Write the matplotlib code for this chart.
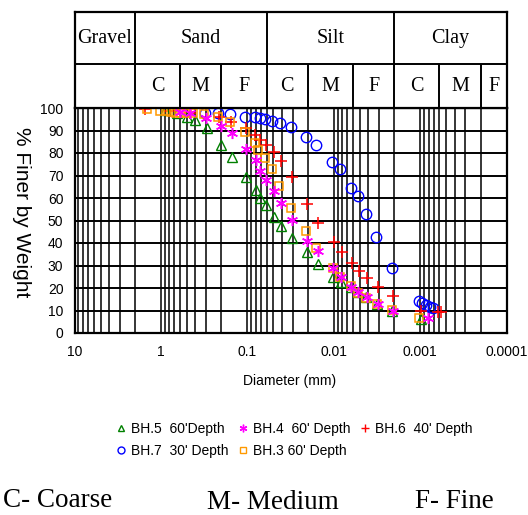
import numpy as np
import matplotlib
matplotlib.use("Agg")
import matplotlib.pyplot as plt
from matplotlib.ticker import FixedLocator, LogLocator, NullFormatter
from matplotlib.lines import Line2D

# ---- data: diameter (mm) and % finer ----
bh5_d = [0.90, 0.655, 0.502, 0.406, 0.297, 0.203, 0.152, 0.1027, 0.080, 0.0716, 0.0604, 0.0497,
         0.0412, 0.0305, 0.0205, 0.0153, 0.0103, 0.0082, 0.0063, 0.0053, 0.00423, 0.00319, 0.00212, 0.00098]
bh5_p = [99, 98, 96, 94.5, 91, 83.5, 78.4, 69.5, 63.6, 59.9, 56.9, 51.4,
         47.7, 42.4, 36.1, 30.7, 25, 22.8, 20.6, 18.1, 15.9, 12.8, 9.8, 6.2]

bh4_d = [0.605, 0.464, 0.303, 0.203, 0.151, 0.1027, 0.080, 0.0716, 0.0604, 0.0497, 0.0405,
         0.0305, 0.0205, 0.0153, 0.0103, 0.0082, 0.0063, 0.0053, 0.00416, 0.0031, 0.00208, 0.00082]
bh4_p = [98.3, 97.8, 95.5, 92.2, 89, 82, 77, 72, 68, 63, 57.6,
         50.2, 41, 36.6, 28.8, 25, 20.6, 18.1, 15.9, 12.8, 9.8, 6.5]

bh6_d = [1.53, 0.79, 0.464, 0.214, 0.156, 0.1046, 0.0813, 0.0716, 0.0604, 0.0497, 0.0405, 0.0305,
         0.0205, 0.0153, 0.0100, 0.0080, 0.00613, 0.00505, 0.00416, 0.0031, 0.00208, 0.00098, 0.00063, 0.00058]
bh6_p = [99.6, 98.8, 98, 96, 94, 91, 88, 86, 83.4, 80.6, 76.4, 69.5,
         57.3, 49, 40.6, 36.1, 31, 27.7, 24.3, 20.6, 16.6, 10, 9.3, 9.3]

bh7_d = [0.311, 0.217, 0.16, 0.1074, 0.0824, 0.0719, 0.0622, 0.0524, 0.0424, 0.0316, 0.0212, 0.016,
         0.0104, 0.00843, 0.0063, 0.0053, 0.00423, 0.00324, 0.00214, 0.00104, 0.00095, 0.00086, 0.00077, 0.00071]
bh7_p = [97.8, 97.9, 97.3, 96, 96, 95.4, 95, 94.4, 93.3, 91.5, 87.2, 83.6,
         76, 72.9, 64.3, 60.9, 52.8, 42.8, 28.7, 14.2, 13.2, 12.3, 11.6, 11]

bh3_d = [1.45, 1.03, 0.877, 0.77, 0.673, 0.589, 0.502, 0.425, 0.315, 0.217, 0.16, 0.1074, 0.0824, 0.0755,
         0.0622, 0.0517, 0.043, 0.0316, 0.0212, 0.016, 0.0103, 0.00843, 0.0063, 0.0053, 0.00423,
         0.00319, 0.00212, 0.00104]
bh3_p = [99.5, 98.7, 98.5, 98.2, 98, 97.9, 97.8, 97.6, 97.2, 96, 94, 89.5, 84.3, 81.3,
         78, 73, 65.5, 55.4, 45.3, 37.6, 28.7, 25, 20.9, 17.6, 15.7,
         12.9, 10.2, 6.8]

x_ticks = [10, 1, 0.1, 0.01, 0.001, 0.0001]
x_ticklabels = ["10", "1", "0.1", "0.01", "0.001", "0.0001"]

# soil classes (BS) for the header table
main_bounds = [2, 0.06, 0.002]
sub_bounds = [2, 0.6, 0.2, 0.06, 0.02, 0.006, 0.002, 0.0006, 0.0002]
main_names = ["Gravel", "Sand", "Silt", "Clay"]
main_edges = [10, 2, 0.06, 0.002, 0.0001]
sub_names = ["C", "M", "F", "C", "M", "F", "C", "M", "F"]
sub_edges = [2, 0.6, 0.2, 0.06, 0.02, 0.006, 0.002, 0.0006, 0.0002, 0.0001]

W, H = 528, 515
sans = "Liberation Sans"
serif = "Liberation Serif"

fig = plt.figure(figsize=(W / 100, H / 100), dpi=100)
fig.patch.set_facecolor("white")


def box(l, t, r, b):
    return [l / W, 1 - b / H, (r - l) / W, (b - t) / H]


# ---- main plot ----
ax = fig.add_axes(box(74.5, 108, 506.7, 333))
ax.set_xscale("log")
ax.set_xlim(10, 0.0001)
ax.set_ylim(0, 100)

ax.plot(bh7_d, bh7_p, ls="none", marker="o", ms=7.5, mfc="none", mec="#0000FF", mew=1.0, zorder=3)
ax.plot(bh6_d, bh6_p, ls="none", marker="+", ms=8.5, mec="#FF0000", mew=1.1, zorder=4)
ax.plot(bh5_d, bh5_p, ls="none", marker="^", ms=7, mfc="none", mec="#008000", mew=1.0, zorder=5)
ax.plot(bh3_d, bh3_p, ls="none", marker="s", ms=6, mfc="none", mec="#FF9900", mew=1.1, zorder=6)
ax.plot(bh4_d, bh4_p, ls="none", marker=(6, 2, 0), ms=8, mec="#FF00FF", mew=1.1, zorder=7)

ax.xaxis.set_major_locator(FixedLocator(x_ticks))
ax.set_xticklabels(x_ticklabels)
ax.xaxis.set_minor_locator(LogLocator(base=10, subs=np.arange(2, 10), numticks=20))
ax.xaxis.set_minor_formatter(NullFormatter())
ax.set_yticks(np.arange(0, 101, 10))
ax.grid(True, which="both", axis="x", color="black", lw=1.1)
ax.grid(True, which="major", axis="y", color="black", lw=1.4)
ax.set_axisbelow(True)
ax.tick_params(which="both", length=0)
ax.tick_params(axis="x", pad=9, labelsize=10)
ax.tick_params(axis="y", pad=8, labelsize=10)
for lab in ax.get_xticklabels() + ax.get_yticklabels():
    lab.set_family(sans)
for sp in ax.spines.values():
    sp.set_linewidth(1.6)
    sp.set_color("black")

fig.text(290 / W, 1 - 381 / H, "Diameter (mm)", ha="center", va="center", fontsize=10, family=sans)
fig.text(21 / W, 1 - 212 / H, "% Finer by Weight", ha="center", va="center", rotation=-90,
         fontsize=15, family=sans)

# ---- header table ----
tb = fig.add_axes(box(74.5, 12.3, 506.7, 108))
tb.set_xscale("log")
tb.set_xlim(10, 0.0001)
tb.set_ylim(0, 96)
tb.set_xticks([])
tb.set_yticks([])
tb.minorticks_off()
for sp in tb.spines.values():
    sp.set_linewidth(1.6)
tb.axhline(44, color="black", lw=1.4)
tb.vlines(main_bounds, 44, 96, color="black", lw=1.4)
tb.vlines(sub_bounds, 0, 44, color="black", lw=1.4)
for i, name in enumerate(main_names):
    xc = np.sqrt(main_edges[i] * main_edges[i + 1])
    tb.text(xc, 70, name, ha="center", va="center", fontsize=14.5, family=serif)
for i, name in enumerate(sub_names):
    xc = np.sqrt(sub_edges[i] * sub_edges[i + 1])
    tb.text(xc, 22, name, ha="center", va="center", fontsize=14.5, family=serif)

# ---- legend ----
handles = [
    Line2D([], [], ls="none", marker="^", ms=5, mfc="none", mec="#008000", mew=1.0),
    Line2D([], [], ls="none", marker="o", ms=5, mfc="none", mec="#0000FF", mew=1.0),
    Line2D([], [], ls="none", marker=(6, 2, 0), ms=5.5, mec="#FF00FF", mew=1.0),
    Line2D([], [], ls="none", marker="s", ms=4.5, mfc="none", mec="#FF9900", mew=1.0),
    Line2D([], [], ls="none", marker="+", ms=6, mec="#FF0000", mew=1.0),
]
labels = ["BH.5  60'Depth", "BH.7  30' Depth", "BH.4  60' Depth", "BH.3 60' Depth", "BH.6  40' Depth"]
fig.legend(handles, labels, loc="upper left", bbox_to_anchor=(108 / W, 1 - 415 / H), ncol=3,
           frameon=False, handlelength=0.9, handletextpad=0.25, columnspacing=0.6,
           labelspacing=0.6, borderpad=0, prop={"family": sans, "size": 10})

# ---- notes ----
fig.text(3 / W, 1 - 507 / H, "C- Coarse", ha="left", va="baseline", fontsize=19.5, family=serif)
fig.text(207 / W, 1 - 509 / H, "M- Medium", ha="left", va="baseline", fontsize=19.5, family=serif)
fig.text(415 / W, 1 - 508 / H, "F- Fine", ha="left", va="baseline", fontsize=19.5, family=serif)

fig.savefig("out.png", dpi=100)
